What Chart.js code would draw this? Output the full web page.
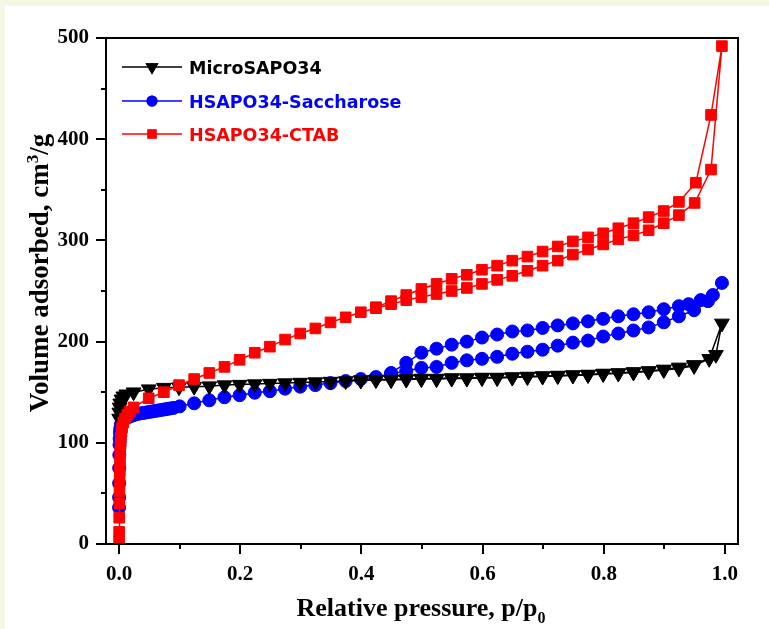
<!DOCTYPE html>
<html>
<head>
<meta charset="utf-8">
<script src="https://cdn.jsdelivr.net/npm/chart.js@4.4.1/dist/chart.umd.min.js"></script>
<style>
  html, body { margin: 0; padding: 0; background: #f5f7e4; }
  #wrap { width: 769px; height: 629px; }
</style>
</head>
<body>
<div id="wrap"><canvas id="chart" width="769" height="629"></canvas></div>
<script>
// axis ticks (labels left blank on minor ticks)
const xTickValues = [0, 0.1, 0.2, 0.3, 0.4, 0.5, 0.6, 0.7, 0.8, 0.9, 1.0]
const xTickLabels = ['0.0', '', '0.2', '', '0.4', '', '0.6', '', '0.8', '', '1.0']
const yTickValues = [0, 50, 100, 150, 200, 250, 300, 350, 400, 450, 500]
const yTickLabels = ['0', '', '100', '', '200', '', '300', '', '400', '', '500']

const seriesNames = ['MicroSAPO34', 'HSAPO34-Saccharose', 'HSAPO34-CTAB']

// MicroSAPO34 - adsorption then desorption branch
const microAdsX = [0.0002, 0.0005, 0.001, 0.002, 0.004, 0.007, 0.012, 0.024, 0.049, 0.074, 0.099, 0.124, 0.149, 0.174, 0.199, 0.224, 0.249, 0.274, 0.299, 0.324, 0.349, 0.374, 0.399, 0.424, 0.449, 0.474, 0.499, 0.524, 0.549, 0.574, 0.599, 0.624, 0.649, 0.674, 0.699, 0.724, 0.749, 0.774, 0.799, 0.824, 0.849, 0.874, 0.899, 0.924, 0.949, 0.974, 0.995]
const microAdsY = [124, 130, 135, 139, 143, 146, 148, 150, 153, 154.5, 155, 155.5, 156, 157, 157.5, 158, 158.5, 159, 159.5, 160, 160.5, 161, 161.5, 162, 162, 162.5, 163, 163, 163.5, 163.5, 164, 164, 164.5, 165, 165.5, 166, 166.5, 167, 168, 168.5, 169.5, 170.5, 172, 173.5, 176, 183, 218]
const microDesX = [0.985, 0.949, 0.924, 0.899, 0.874, 0.849, 0.824, 0.799, 0.774, 0.749, 0.724, 0.699, 0.674, 0.649, 0.624, 0.599, 0.574, 0.549, 0.524, 0.499, 0.474, 0.449, 0.424, 0.399]
const microDesY = [187, 177, 174.5, 172.5, 171, 170, 169, 168.5, 167.5, 167, 166.5, 166, 165.5, 165, 164.5, 164.5, 164, 164, 163.5, 163.5, 163, 162.5, 162.5, 162]

// HSAPO34-Saccharose
const sacAdsX = [0.00005, 0.0001, 0.0002, 0.0003, 0.0005, 0.0008, 0.001, 0.0015, 0.002, 0.003, 0.005, 0.008, 0.012, 0.016, 0.02, 0.025, 0.03, 0.035, 0.04, 0.045, 0.05, 0.055, 0.06, 0.065, 0.07, 0.075, 0.08, 0.085, 0.09, 0.1, 0.124, 0.149, 0.174, 0.199, 0.224, 0.249, 0.274, 0.299, 0.324, 0.349, 0.374, 0.399, 0.424, 0.449, 0.474, 0.499, 0.524, 0.549, 0.574, 0.599, 0.624, 0.649, 0.674, 0.699, 0.724, 0.749, 0.774, 0.799, 0.824, 0.849, 0.874, 0.899, 0.924, 0.949, 0.972, 0.995]
const sacAdsY = [36, 46, 60, 75, 88, 98, 104, 110, 114, 118, 121, 123, 124.5, 125.5, 126.5, 127.5, 128.5, 129, 129.5, 130, 130.5, 131, 131.5, 132, 132.5, 133, 133.5, 134, 134.5, 136, 139, 142, 145, 147, 149.5, 151, 153.5, 155.5, 157, 159, 161, 163, 165, 168, 171, 174, 175, 179, 181.5, 183, 185, 188, 190, 192, 196, 199, 201, 205, 208, 211, 214, 219, 225, 231, 240, 258]
const sacDesX = [0.98, 0.96, 0.94, 0.924, 0.899, 0.874, 0.849, 0.824, 0.799, 0.774, 0.749, 0.724, 0.699, 0.674, 0.649, 0.624, 0.599, 0.574, 0.549, 0.524, 0.499, 0.474, 0.449]
const sacDesY = [246, 241, 237, 235, 232, 229, 227, 225, 222.5, 220, 218, 216, 213.5, 211, 210, 207, 204, 200, 197, 193, 189, 179, 169]

// HSAPO34-CTAB
const ctabAdsX = [0.0001, 0.0002, 0.0003, 0.0005, 0.0007, 0.001, 0.0013, 0.0016, 0.002, 0.0025, 0.003, 0.004, 0.005, 0.007, 0.01, 0.014, 0.018, 0.024, 0.049, 0.074, 0.099, 0.124, 0.149, 0.174, 0.199, 0.224, 0.249, 0.274, 0.299, 0.324, 0.349, 0.374, 0.399, 0.424, 0.449, 0.474, 0.499, 0.524, 0.549, 0.574, 0.599, 0.624, 0.649, 0.674, 0.699, 0.724, 0.749, 0.774, 0.799, 0.824, 0.849, 0.874, 0.899, 0.924, 0.95, 0.977, 0.995]
const ctabAdsY = [3, 12, 26, 40, 52, 63, 73, 82, 91, 99, 105, 111, 115, 120, 124, 128, 131, 135, 144, 150, 157, 163, 169, 175, 182, 189, 195, 202, 208, 213, 219, 224, 229, 233, 237, 241, 244, 247, 250, 253, 257, 261, 265, 270, 275, 280, 286, 291, 296, 301, 305, 310, 317, 325, 337, 370, 492]
const ctabDesX = [0.977, 0.952, 0.924, 0.899, 0.874, 0.849, 0.824, 0.799, 0.774, 0.749, 0.724, 0.699, 0.674, 0.649, 0.624, 0.599, 0.574, 0.549, 0.524, 0.499, 0.474, 0.449, 0.424]
const ctabDesY = [424, 357, 338, 329, 323, 317, 312, 307, 303, 299, 294, 289, 284, 280, 275, 271, 266, 262, 257, 252, 246, 240, 234]

const SERIF = '"Liberation Serif", "Times New Roman", serif'
const SANS = '"DejaVu Sans", Verdana, sans-serif'

// adsorption branch followed by desorption branch, one continuous loop
const toLoop = (ax, ay, dx, dy) =>
  ax.map((x, i) => ({ x, y: ay[i] })).concat(dx.map((x, i) => ({ x, y: dy[i] })))

const styles = [
  { color: '#000000', pointStyle: 'triangle', radius: 8.5, rotation: 180 },
  { color: '#0000ff', pointStyle: 'circle', radius: 6.5, rotation: 0 },
  { color: '#ff0000', pointStyle: 'rect', radius: 7.5, rotation: 0 }
]

const makeDataset = (i, data, order) => ({
  label: seriesNames[i],
  data,
  order,
  showLine: true,
  borderColor: styles[i].color,
  borderWidth: 1.5,
  pointStyle: styles[i].pointStyle,
  pointRadius: styles[i].radius,
  pointRotation: styles[i].rotation,
  pointBackgroundColor: styles[i].color,
  pointBorderColor: styles[i].color,
  pointBorderWidth: 1,
  tension: 0,
  clip: 0
})

const pageBackground = {
  id: 'pageBackground',
  beforeDraw(chart) {
    const { ctx, width, height } = chart
    ctx.save()
    ctx.fillStyle = '#f5f7e4'
    ctx.fillRect(0, 0, width, height)
    ctx.fillStyle = '#ffffff'
    ctx.fillRect(5, 6, width - 5, height - 6)
    ctx.restore()
  }
}

const frameAndTicks = {
  id: 'frameAndTicks',
  afterDraw(chart) {
    const { ctx, chartArea: a } = chart
    const xs = chart.scales.x
    const ys = chart.scales.y
    ctx.save()
    ctx.strokeStyle = '#000'
    ctx.lineWidth = 2
    ctx.strokeRect(a.left, a.top, a.right - a.left, a.bottom - a.top)
    ctx.beginPath()
    xTickValues.forEach((v, i) => {
      const px = Math.round(xs.getPixelForValue(v))
      const len = xTickLabels[i] ? 10 : 5
      ctx.moveTo(px, a.bottom)
      ctx.lineTo(px, a.bottom + len)
    })
    yTickValues.forEach((v, i) => {
      const py = Math.round(ys.getPixelForValue(v))
      const len = yTickLabels[i] ? 10 : 5
      ctx.moveTo(a.left, py)
      ctx.lineTo(a.left - len, py)
    })
    ctx.stroke()
    ctx.restore()
  }
}

// axis titles with sub/superscripts
const axisTitles = {
  id: 'axisTitles',
  afterDraw(chart) {
    const { ctx } = chart
    ctx.save()
    ctx.fillStyle = '#000'
    ctx.textBaseline = 'alphabetic'

    // x title
    const big = 'bold 26px ' + SERIF
    const small = 'bold 16px ' + SERIF
    ctx.font = big
    const xMain = 'Relative pressure, p/p'
    const w1 = ctx.measureText(xMain).width
    ctx.font = small
    const w2 = ctx.measureText('0').width
    let x0 = 421 - (w1 + w2) / 2
    ctx.font = big
    ctx.fillText(xMain, x0, 616)
    ctx.font = small
    ctx.fillText('0', x0 + w1, 623)

    // y title
    ctx.translate(48, 273)
    ctx.rotate(-Math.PI / 2)
    const yBig = 'bold 27px ' + SERIF
    const ySmall = 'bold 17px ' + SERIF
    ctx.font = yBig
    const a1 = 'Volume adsorbed, cm'
    const a3 = '/g'
    const wa1 = ctx.measureText(a1).width
    const wa3 = ctx.measureText(a3).width
    ctx.font = ySmall
    const wa2 = ctx.measureText('3').width
    let s = -(wa1 + wa2 + wa3) / 2
    ctx.font = yBig
    ctx.fillText(a1, s, 0)
    ctx.font = ySmall
    ctx.fillText('3', s + wa1, -10)
    ctx.font = yBig
    ctx.fillText(a3, s + wa1 + wa2, 0)
    ctx.restore()
  }
}

// legend: short line with the marker in the middle, coloured label
const lineLegend = {
  id: 'lineLegend',
  afterDraw(chart) {
    const { ctx } = chart
    const rows = [67, 101, 134]
    ctx.save()
    ctx.font = 'bold 17.5px ' + SANS
    ctx.textBaseline = 'alphabetic'
    seriesNames.forEach((name, i) => {
      const y = rows[i]
      const c = styles[i].color
      ctx.strokeStyle = c
      ctx.fillStyle = c
      ctx.lineWidth = 1.5
      ctx.beginPath()
      ctx.moveTo(122, y)
      ctx.lineTo(182, y)
      ctx.stroke()
      Chart.helpers.drawPoint(ctx, {
        pointStyle: styles[i].pointStyle,
        radius: styles[i].radius - 1,
        rotation: styles[i].rotation,
        borderWidth: 0
      }, 152, y)
      ctx.fill()
      ctx.fillText(name, 189, y + 7)
    })
    ctx.restore()
  }
}

const ctx = document.getElementById('chart').getContext('2d')

new Chart(ctx, {
  type: 'scatter',
  data: {
    datasets: [
      makeDataset(0, toLoop(microAdsX, microAdsY, microDesX, microDesY), 1),
      makeDataset(1, toLoop(sacAdsX, sacAdsY, sacDesX, sacDesY), 2),
      makeDataset(2, toLoop(ctabAdsX, ctabAdsY, ctabDesX, ctabDesY), 0)
    ]
  },
  options: {
    responsive: false,
    animation: false,
    devicePixelRatio: 1,
    events: [],
    layout: {
      padding: { left: 0, top: 38, right: 31, bottom: 0 }
    },
    plugins: {
      legend: { display: false },
      tooltip: { enabled: false }
    },
    scales: {
      x: {
        type: 'linear',
        min: -0.0215,
        max: 1.0215,
        afterBuildTicks: (scale) => {
          scale.ticks = xTickValues.map(value => ({ value }))
        },
        afterFit: (scale) => { scale.height = 85 },
        grid: { display: false, drawTicks: true, tickLength: 10 },
        border: { display: false },
        ticks: {
          autoSkip: false,
          maxRotation: 0,
          padding: 8,
          color: '#000',
          font: { family: SERIF, size: 21, weight: 'bold' },
          callback: (value, index) => xTickLabels[index]
        }
      },
      y: {
        type: 'linear',
        min: 0,
        max: 500,
        afterBuildTicks: (scale) => {
          scale.ticks = yTickValues.map(value => ({ value }))
        },
        afterFit: (scale) => { scale.width = 106 },
        grid: { display: false, drawTicks: true, tickLength: 10 },
        border: { display: false },
        ticks: {
          autoSkip: false,
          padding: 7,
          color: '#000',
          font: { family: SERIF, size: 21, weight: 'bold' },
          callback: (value, index) => yTickLabels[index]
        }
      }
    }
  },
  plugins: [pageBackground, frameAndTicks, axisTitles, lineLegend]
})
</script>
</body>
</html>
